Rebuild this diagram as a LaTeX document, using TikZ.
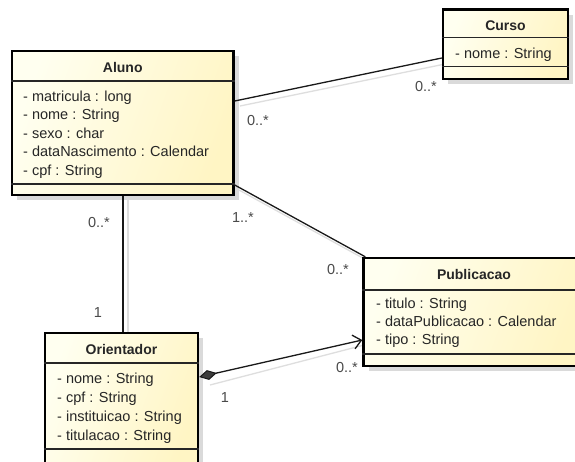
\documentclass[tikz,border=0pt]{standalone}
\usepackage{fontspec}
\setmainfont{Liberation Sans}
\usetikzlibrary{arrows.meta,shadows,calc}
\definecolor{boxhi}{HTML}{FFFFF0}
\definecolor{boxlo}{HTML}{FFF5C4}
\definecolor{boxshadow}{HTML}{DADADA}
\definecolor{linkshadow}{HTML}{DEDEDE}
\definecolor{multcol}{HTML}{4A4A4A}
\definecolor{textcol}{HTML}{262626}
\definecolor{diamondfill}{HTML}{3C3C3C}
\begin{document}
\begin{tikzpicture}[x=1pt,y=-1pt,
  classbox/.style={rectangle, inner sep=0pt, draw=black, line width=2.4pt,
    left color=boxhi, right color=boxlo, shading angle=70,
    drop shadow={shadow xshift=5pt, shadow yshift=-5pt, fill=boxshadow, opacity=1}},
  compsep/.style={draw=black!85, line width=1.1pt},
  classname/.style={anchor=base, inner sep=0pt, text=textcol,
    font=\fontsize{14}{16}\selectfont\bfseries},
  attr/.style={anchor=base west, inner sep=0pt, text=textcol,
    font=\fontsize{14.5}{16}\selectfont},
  mult/.style={inner sep=0pt, text=multcol, font=\fontsize{14.5}{16}\selectfont},
  link/.style={draw=black!90, line width=1.3pt},
  linkshade/.style={draw=linkshadow, line width=1.3pt}
]
\useasboundingbox (0,0) rectangle (575,461);
\clip (0,0) rectangle (575,461);
\fill[white] (0,0) rectangle (575,461);

% ---------- connector shadows ----------
\draw[linkshade] (240,106) -- (450,63);
\draw[linkshade] (239,190) -- (370,262);
\draw[linkshade] (128,198) -- (128,337);
\draw[linkshade] (210,385) -- (368,344);

% ---------- classes ----------
% Aluno
\node[classbox, minimum width=221.5pt, minimum height=144pt] (aluno) at (122.75,123) {};
\draw[compsep] (aluno.west |- 0,81) -- (aluno.east |- 0,81);
\draw[compsep] (aluno.west |- 0,184) -- (aluno.east |- 0,184);
\node[classname] (aluno-name) at (aluno.north |- 0,72) {Aluno};
\node[attr] (aluno-a1) at (23,101)   {- matricula : long};
\node[attr] (aluno-a2) at (23,119.5) {- nome : String};
\node[attr] (aluno-a3) at (23,138)   {- sexo : char};
\node[attr] (aluno-a4) at (23,156.5) {- dataNascimento : Calendar};
\node[attr] (aluno-a5) at (23,175)   {- cpf : String};

% Curso
\node[classbox, minimum width=125pt, minimum height=69.5pt] (curso) at (505.5,44.25) {};
\draw[compsep] (curso.west |- 0,37.7) -- (curso.east |- 0,37.7);
\draw[compsep] (curso.west |- 0,66.7) -- (curso.east |- 0,66.7);
\node[classname] (curso-name) at (curso.north |- 0,30.5) {Curso};
\node[attr] (curso-a1) at (455,58) {- nome : String};

% Publicacao
\node[classbox, minimum width=221pt, minimum height=108pt] (pub) at (474,312) {};
\draw[compsep] (pub.west |- 0,290) -- (pub.east |- 0,290);
\draw[compsep] (pub.west |- 0,354) -- (pub.east |- 0,354);
\node[classname] (pub-name) at (pub.north |- 0,279) {Publicacao};
\node[attr] (pub-a1) at (376,308)   {- titulo : String};
\node[attr] (pub-a2) at (376,326)   {- dataPublicacao : Calendar};
\node[attr] (pub-a3) at (376,344.5) {- tipo : String};

% Orientador
\node[classbox, minimum width=153pt, minimum height=132pt] (ori) at (121.5,399) {};
\draw[compsep] (ori.west |- 0,363) -- (ori.east |- 0,363);
\draw[compsep] (ori.west |- 0,449) -- (ori.east |- 0,449);
\node[classname] (ori-name) at (ori.north |- 0,354) {Orientador};
\node[attr] (ori-a1) at (57,383.5) {- nome : String};
\node[attr] (ori-a2) at (57,402)   {- cpf : String};
\node[attr] (ori-a3) at (57,421)   {- instituicao : String};
\node[attr] (ori-a4) at (57,440)   {- titulacao : String};

% ---------- connector end points ----------
\coordinate (ac-a) at (aluno.east |- 0,101);
\coordinate (ac-c) at (curso.west |- 0,58);
\coordinate (ap-a) at (aluno.east |- 0,185);
\coordinate (ap-p) at ($(pub.north west)+(3,0)$);
\coordinate (ao-a) at (123,0 |- aluno.south);
\coordinate (ao-o) at (123,0 |- ori.north);
\coordinate (op-o) at (ori.east |- 0,377);
\coordinate (op-p) at (pub.west |- 0,340);

% ---------- connectors ----------
\draw[link] (ac-a) -- (ac-c);
\draw[link] (ap-a) -- (ap-p);
\draw[link] (ao-a) -- (ao-o);
\draw[link, {Diamond[length=18pt, width=10pt, fill=diamondfill, line width=1pt]}-{Straight Barb[length=8pt, width=14pt, line width=1.3pt]}]
  (op-o) -- (op-p);

% ---------- multiplicities ----------
\node[mult] (m-ac-a) at (258,121) {0..*};
\node[mult] (m-ac-c) at (426,87)  {0..*};
\node[mult] (m-ap-a) at (243,218) {1..*};
\node[mult] (m-ap-p) at (338,270) {0..*};
\node[mult] (m-ao-a) at (99,223)  {0..*};
\node[mult] (m-ao-o) at (98,313)  {1};
\node[mult] (m-op-o) at (225,398) {1};
\node[mult] (m-op-p) at (347,368) {0..*};
\end{tikzpicture}
\end{document}
